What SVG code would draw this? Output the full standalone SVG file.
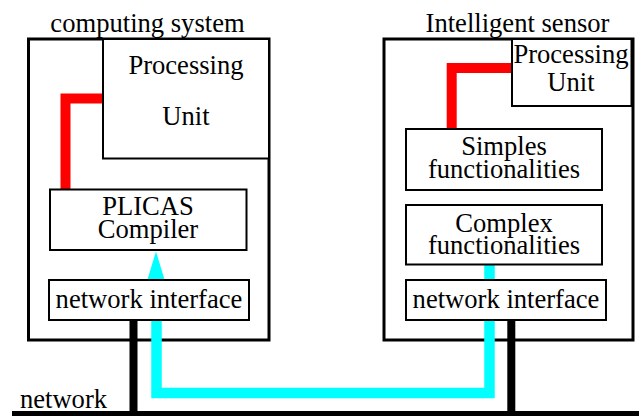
<svg xmlns="http://www.w3.org/2000/svg" width="639" height="416" viewBox="0 0 639 416">
<style>
text{font-family:"Liberation Serif","Times New Roman",serif;font-size:26.6px;fill:#000;text-anchor:middle}
.outer{fill:none;stroke:#000;stroke-width:3}
.box{fill:#fff;stroke:#000;stroke-width:2}
.red{fill:none;stroke:#f00;stroke-width:10;stroke-linejoin:miter}
.cyan{fill:none;stroke:#0ff;stroke-width:10.5;stroke-linejoin:miter}
.blk{fill:none;stroke:#000;stroke-width:8}
</style>
<g id="computing-system">
<rect class="outer" x="28.5" y="39" width="240.5" height="301"/>
<text x="147.5" y="32">computing system</text>
</g>
<g id="intelligent-sensor">
<rect class="outer" x="384" y="39" width="249" height="301"/>
<text x="517.5" y="32">Intelligent sensor</text>
</g>
<g id="connectors">
<path class="red" d="M65.5 189.5V98.5H104"/>
<path class="red" d="M451.7 129V68H512"/>
<path class="cyan" d="M489.5 265V393H156.5V278"/>
<polygon fill="#0ff" points="156,251.5 147.5,279.5 164.5,279.5"/>
<path class="blk" d="M133.5 320V416"/>
<path class="blk" d="M511.3 320V416"/>
<line x1="12" y1="413.5" x2="639" y2="413.5" stroke="#000" stroke-width="5"/>
<text x="63.5" y="408">network</text>
</g>
<g id="processing-unit-left">
<rect class="box" x="103" y="39" width="166" height="119.5"/>
<text x="186" y="74">Processing</text>
<text x="186" y="125">Unit</text>
</g>
<g id="plicas-compiler">
<rect class="box" x="50" y="189.5" width="196.5" height="60.5"/>
<text x="148" y="215">PLICAS</text>
<text x="148" y="238">Compiler</text>
</g>
<g id="network-interface-left">
<rect class="box" x="49" y="280" width="200" height="40"/>
<text x="149" y="308">network interface</text>
</g>
<g id="processing-unit-right">
<rect class="box" x="512" y="39" width="119.5" height="67"/>
<text x="571" y="62.5">Processing</text>
<text x="571" y="90.5">Unit</text>
</g>
<g id="simples-functionalities">
<rect class="box" x="406" y="129" width="196" height="61"/>
<text x="504" y="155">Simples</text>
<text x="504" y="178">functionalities</text>
</g>
<g id="complex-functionalities">
<rect class="box" x="406" y="205" width="196" height="59.5"/>
<text x="504" y="231.5">Complex</text>
<text x="504" y="253.5">functionalities</text>
</g>
<g id="network-interface-right">
<rect class="box" x="406" y="280" width="200" height="40"/>
<text x="506" y="308">network interface</text>
</g>
</svg>
